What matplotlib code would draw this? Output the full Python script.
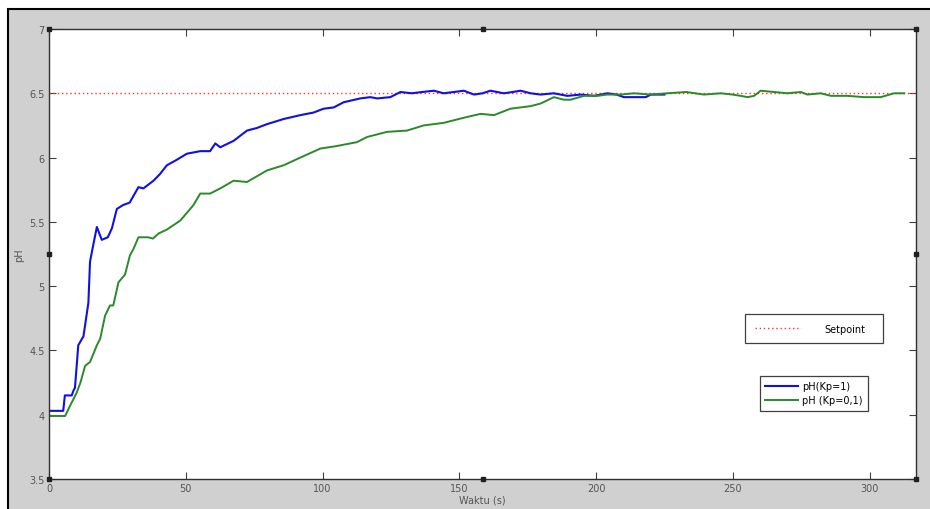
import matplotlib.pyplot as plt
from matplotlib.patches import Rectangle
from matplotlib.ticker import FormatStrFormatter

# pH response, Kp = 1
t_kp1 = [0, 5.2, 5.8, 8.3, 9.0, 9.5, 10.7, 12.6, 14.4, 15.0, 15.9, 17.5, 19.3, 21.5, 23.0,
         24.8, 27.0, 29.5, 32.7, 34.5, 38.2, 40.5, 43.1, 46.5, 50.4, 55.3, 58.9, 60.8, 62.6,
         67.5, 72.4, 76, 79.7, 85.8, 91.9, 96.7, 100.4, 104.1, 107.7, 113.8, 117.5, 120,
         124.8, 128.5, 132.6, 136.5, 140.7, 144.3, 148, 151.7, 155.4, 158.5, 161.4, 166.3,
         169.5, 172.4, 176.1, 179.7, 184.6, 189.5, 194.4, 199.3, 204.2, 207.5, 210.2, 218.2,
         220, 225]
ph_kp1 = [4.03, 4.03, 4.15, 4.15, 4.19, 4.21, 4.54, 4.61, 4.87, 5.19, 5.29, 5.46, 5.36, 5.38,
          5.45, 5.60, 5.63, 5.65, 5.77, 5.76, 5.82, 5.87, 5.94, 5.98, 6.03, 6.05, 6.05, 6.11,
          6.08, 6.13, 6.21, 6.23, 6.26, 6.30, 6.33, 6.35, 6.38, 6.39, 6.43, 6.46, 6.47, 6.46,
          6.47, 6.51, 6.50, 6.51, 6.52, 6.50, 6.51, 6.52, 6.49, 6.50, 6.52, 6.50, 6.51, 6.52,
          6.50, 6.49, 6.50, 6.48, 6.49, 6.48, 6.50, 6.49, 6.47, 6.47, 6.49, 6.49]

# pH response, Kp = 0,1
t_kp01 = [0, 5.9, 7.7, 10.1, 11.5, 13.2, 15.0, 17.5, 18.7, 20.5, 22.3, 23.5, 25.4, 27.8, 29.0,
          29.6, 30.9, 32.7, 36.3, 38.0, 40.1, 43.1, 48.0, 52.8, 55.3, 58.9, 62.6, 67.5, 72.4,
          79.7, 85.8, 91.9, 99.2, 105.3, 112.6, 116.3, 123.6, 130.9, 137.0, 144.3, 151.7,
          157.8, 162.7, 168.7, 176.1, 179.7, 184.6, 188.3, 190.7, 195.6, 200.5, 204, 209,
          213.9, 220, 226.1, 233, 239.5, 245.6, 250, 252.9, 255.4, 257.8, 260.2, 265.1, 270,
          274.9, 277.3, 282.2, 285.9, 292.0, 298.0, 304.1, 309.0, 312.7]
ph_kp01 = [3.99, 3.99, 4.07, 4.17, 4.25, 4.38, 4.41, 4.54, 4.59, 4.77, 4.85, 4.85, 5.03, 5.09,
           5.19, 5.24, 5.29, 5.38, 5.38, 5.37, 5.41, 5.44, 5.51, 5.63, 5.72, 5.72, 5.76, 5.82,
           5.81, 5.90, 5.94, 6.00, 6.07, 6.09, 6.12, 6.16, 6.20, 6.21, 6.25, 6.27, 6.31, 6.34,
           6.33, 6.38, 6.40, 6.42, 6.47, 6.45, 6.45, 6.48, 6.48, 6.49, 6.49, 6.50, 6.49, 6.50,
           6.51, 6.49, 6.50, 6.49, 6.48, 6.47, 6.48, 6.52, 6.51, 6.50, 6.51, 6.49, 6.50, 6.48,
           6.48, 6.47, 6.47, 6.50, 6.50]

setpoint = 6.5
x_ticks = [0, 50, 100, 150, 200, 250, 300]
y_ticks = [3.5, 4, 4.5, 5, 5.5, 6, 6.5, 7]

W, H = 930, 510
fig = plt.figure(figsize=(W / 100, H / 100), dpi=100, facecolor='white')

# grey figure panel with black frame (MATLAB window look)
fig.patches.append(Rectangle((8 / W, -0.01), 1.0, 1 - 10 / H + 0.01, transform=fig.transFigure,
                             facecolor='#d0d0d0', edgecolor='black', linewidth=1.5, zorder=-5))

ax = fig.add_axes([49 / W, 30 / H, 867 / W, 450 / H])
ax.set_zorder(1)
ax.set_facecolor('white')

ax.plot([0, 317], [setpoint, setpoint], color='#ff3030', linestyle=(0, (1, 2)), linewidth=1.0,
        label='Setpoint')
l1, = ax.plot(t_kp1, ph_kp1, color='#1010e0', linewidth=1.5, label='pH(Kp=1)')
l2, = ax.plot(t_kp01, ph_kp01, color='#2a8a2a', linewidth=1.4, label='pH (Kp=0,1)')

ax.set_xlim(0, 317)
ax.set_ylim(3.5, 7)
ax.set_xticks(x_ticks)
ax.set_yticks(y_ticks)
ax.yaxis.set_major_formatter(FormatStrFormatter('%g'))
ax.tick_params(direction='in', length=5, width=0.8, top=True, right=True,
               labelsize=7, colors='#404040', labelcolor='#555555', pad=3)
for s in ax.spines.values():
    s.set_linewidth(1.0)
    s.set_color('#303030')

ax.set_xlabel('Waktu (s)', fontsize=7, color='#555555', labelpad=1)
ax.set_ylabel('pH', fontsize=7, color='#555555', labelpad=4)

# edit handles
hx = [0, 0.5, 1, 0, 1, 0, 0.5, 1]
hy = [0, 0, 0, 0.5, 0.5, 1, 1, 1]
ax.plot(hx, hy, linestyle='none', marker='s', markersize=3.5, color='#202020',
        transform=ax.transAxes, clip_on=False, zorder=5)

leg1 = ax.legend(handles=ax.lines[:1], loc='upper left', mode='expand',
                 bbox_to_anchor=(745 / W, 1 - 345 / H, 138 / W, 30 / H),
                 bbox_transform=fig.transFigure,
                 borderaxespad=0, fancybox=False, edgecolor='#404040', fontsize=7,
                 handlelength=4.8, handletextpad=2.4, borderpad=1.0, framealpha=1)
leg1.get_frame().set_linewidth(0.9)
ax.add_artist(leg1)

leg2 = ax.legend(handles=[l1, l2], loc='upper left',
                 bbox_to_anchor=(760 / W, 1 - 377 / H), bbox_transform=fig.transFigure,
                 borderaxespad=0, fancybox=False, edgecolor='#404040', fontsize=7,
                 handlelength=3.4, handletextpad=0.4, borderpad=0.55, labelspacing=0.4,
                 framealpha=1)
leg2.get_frame().set_linewidth(0.9)

fig.savefig('out.png', dpi=100, facecolor=fig.get_facecolor())
